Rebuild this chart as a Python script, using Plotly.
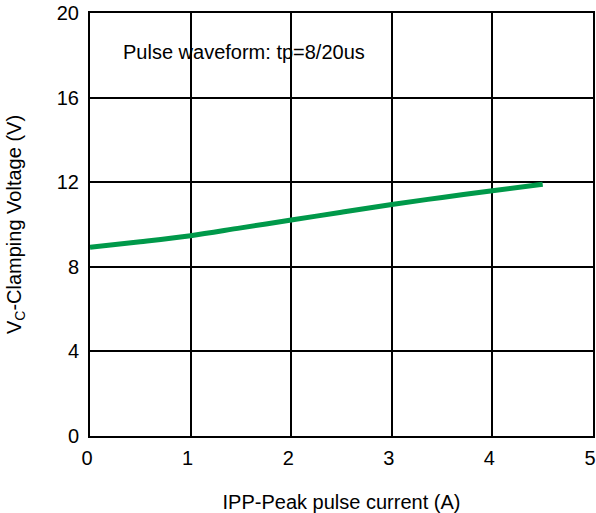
import plotly.graph_objects as go

current_a = [0.0, 0.5, 1.0, 1.5, 2.0, 2.5, 3.0, 3.5, 4.0, 4.5]
clamp_v = [8.92, 9.18, 9.47, 9.84, 10.21, 10.58, 10.95, 11.28, 11.6, 11.9]
x_ticks = [0, 1, 2, 3, 4, 5]
y_ticks = [0, 4, 8, 12, 16, 20]

font = "Liberation Sans, Arial, sans-serif"
FS = 20

fig = go.Figure()
fig.add_trace(go.Scatter(
    x=current_a, y=clamp_v, mode="lines",
    line=dict(color="#00994a", width=5, shape="spline"),
    showlegend=False, hoverinfo="skip",
))

fig.add_annotation(
    x=0.31, y=18.15, xref="x", yref="y", xanchor="left", yanchor="middle",
    text="Pulse waveform: tp=8/20us", showarrow=False,
    font=dict(family=font, size=FS, color="black"),
)

fig.update_xaxes(
    range=[0, 5], tickvals=x_ticks, ticktext=[str(v) for v in x_ticks],
    showgrid=True, gridcolor="black", gridwidth=2,
    showline=True, linecolor="black", linewidth=2, mirror=True,
    zeroline=False, ticks="outside", ticklen=3, tickcolor="rgba(0,0,0,0)",
    ticklabeloverflow="allow", automargin=False, ticklabelshift=-3,
    tickfont=dict(family=font, size=FS, color="black"),
    title=dict(text="IPP-Peak pulse current (A)", standoff=39,
               font=dict(family=font, size=FS, color="black")),
)
fig.update_yaxes(
    range=[0, 20], tickvals=y_ticks, ticktext=[str(v) for v in y_ticks],
    showgrid=True, gridcolor="black", gridwidth=2,
    showline=True, linecolor="black", linewidth=2, mirror=True,
    zeroline=False, ticks="outside", ticklen=5, tickcolor="rgba(0,0,0,0)",
    ticklabeloverflow="allow", automargin=False,
    tickfont=dict(family=font, size=FS, color="black"),
    title=dict(text="V<sub>C</sub>-Clamping Voltage (V)", standoff=30,
               font=dict(family=font, size=FS, color="black")),
)

fig.update_layout(
    width=596, height=513,
    margin=dict(l=90, r=3, t=13, b=77),
    paper_bgcolor="white", plot_bgcolor="white",
)

fig.write_html("out.html", config={"displayModeBar": False},
               post_script="document.body.style.margin='0';")
